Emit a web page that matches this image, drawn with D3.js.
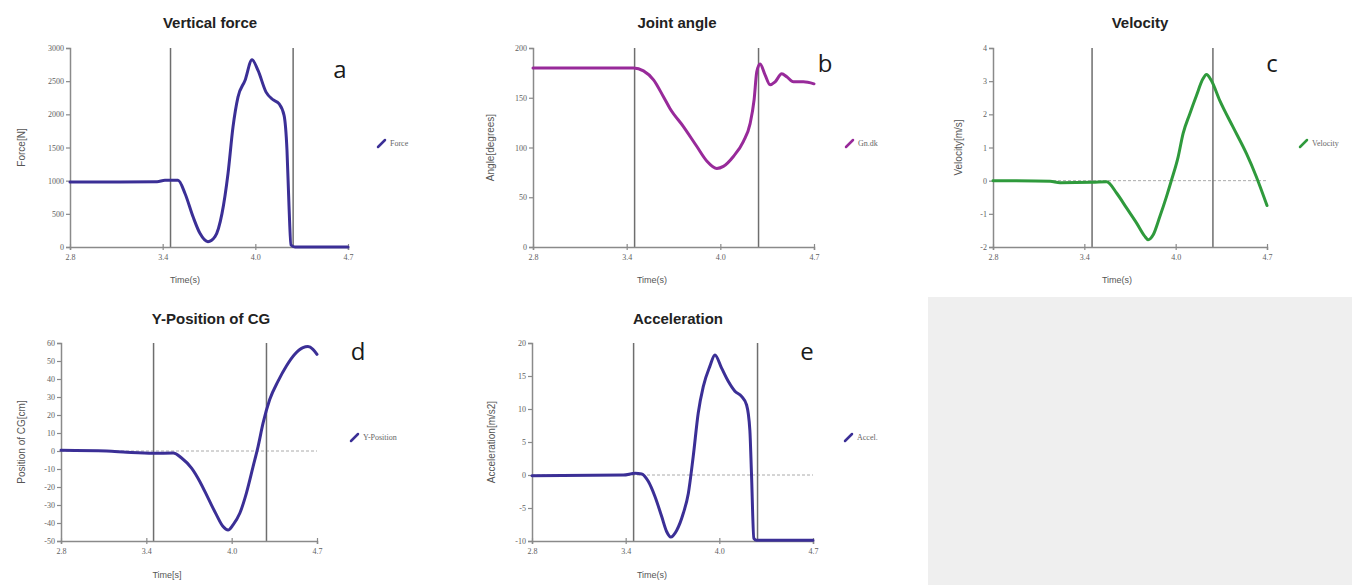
<!DOCTYPE html>
<html>
<head>
<meta charset="utf-8">
<script src="https://cdn.jsdelivr.net/npm/d3@7"></script>
<style>
  body { margin: 0; background: #fff; }
  svg { display: block; }
</style>
</head>
<body>
<svg id="chart"></svg>
<script>
const svgWidth = 1352;
const svgHeight = 585;

// shared time axis
const timeDomain = [2.8, 4.7];
const timeTickLabels = ["2.8", "3.4", "4.0", "4.7"];
const eventTimes = [3.487, 4.325];

// a - vertical force
const forceTime = [2.8, 3.142, 3.395, 3.449, 3.538, 3.586, 3.641, 3.688, 3.743, 3.791, 3.839, 3.880, 3.914, 3.948, 3.996, 4.044, 4.085, 4.140, 4.187, 4.228, 4.263, 4.283, 4.297, 4.310, 4.338, 4.7];
const forceValues = [980, 980, 985, 1005, 1005, 807, 455, 206, 80, 155, 507, 1108, 1809, 2260, 2511, 2822, 2662, 2335, 2221, 2160, 1985, 1459, 606, 30, 0, 0];

// b - joint angle
const angleTime = [2.8, 3.480, 3.547, 3.615, 3.682, 3.727, 3.817, 3.908, 3.975, 4.043, 4.087, 4.155, 4.222, 4.268, 4.295, 4.313, 4.335, 4.369, 4.403, 4.437, 4.482, 4.516, 4.561, 4.628, 4.7];
const angleValues = [180, 180, 177, 168, 151, 139, 121, 101, 86.5, 79, 81, 91, 106, 124, 148, 176, 184, 173, 163, 166, 174, 171, 166, 166, 164];

// c - velocity
const velocityTime = [2.8, 3.196, 3.265, 3.485, 3.588, 3.658, 3.727, 3.796, 3.853, 3.876, 3.911, 3.957, 4.003, 4.038, 4.084, 4.118, 4.165, 4.211, 4.256, 4.280, 4.314, 4.372, 4.464, 4.557, 4.626, 4.7];
const velocityValues = [0, -0.02, -0.06, -0.05, -0.03, -0.38, -0.83, -1.28, -1.68, -1.78, -1.63, -1.08, -0.48, 0.02, 0.72, 1.42, 2.02, 2.57, 3.07, 3.2, 3.02, 2.42, 1.62, 0.82, 0.12, -0.75];

// d - y-position of CG
const positionTime = [2.8, 3.139, 3.287, 3.484, 3.633, 3.695, 3.769, 3.830, 3.892, 3.954, 4.003, 4.040, 4.077, 4.127, 4.176, 4.226, 4.263, 4.300, 4.349, 4.411, 4.473, 4.535, 4.596, 4.633, 4.670, 4.7];
const positionValues = [0.4, 0, -0.7, -1.3, -1.1, -3.9, -9.5, -16.9, -26.2, -35.5, -42, -43.9, -41, -34.6, -23.4, -8.6, 2.6, 15.6, 28.6, 38.8, 47.2, 53.7, 57.4, 58, 56.5, 53.7];

// e - acceleration
const accelTime = [2.8, 3.418, 3.497, 3.542, 3.587, 3.632, 3.677, 3.711, 3.738, 3.778, 3.823, 3.857, 3.890, 3.924, 3.958, 4.003, 4.037, 4.082, 4.127, 4.172, 4.217, 4.251, 4.273, 4.284, 4.300, 4.318, 4.7];
const accelValues = [-0.1, 0, 0.25, 0.15, -1, -3.3, -6.3, -8.6, -9.4, -8.4, -5.8, -2.8, 2.8, 9.4, 13.4, 16.5, 18.2, 16.2, 14.2, 12.7, 11.9, 10.6, 6.8, 0.25, -9.6, -9.9, -9.9];

const panels = [
  { title: "Vertical force", letter: "a", yLabel: "Force[N]", xLabel: "Time(s)", legend: "Force",
    time: forceTime, values: forceValues, yDomain: [0, 3000], yStep: 500, zeroLine: false, color: "#3b2f96",
    left: 70, right: 348, top: 48, bottom: 247, titleX: 210, titleY: 28, letterX: 340, letterY: 78,
    legendX: 378, legendY: 143, yLabelX: 25, xLabelX: 185, xLabelY: 283 },
  { title: "Joint angle", letter: "b", yLabel: "Angle[degrees]", xLabel: "Time(s)", legend: "Gn.dk",
    time: angleTime, values: angleValues, yDomain: [0, 200], yStep: 50, zeroLine: false, color: "#982a9a",
    left: 533, right: 814, top: 48, bottom: 247, titleX: 677, titleY: 28, letterX: 825, letterY: 72,
    legendX: 846, legendY: 143, yLabelX: 494, xLabelX: 652, xLabelY: 283 },
  { title: "Velocity", letter: "c", yLabel: "Velocity[m/s]", xLabel: "Time(s)", legend: "Velocity",
    time: velocityTime, values: velocityValues, yDomain: [-2, 4], yStep: 1, zeroLine: true, color: "#2f9a3c",
    left: 993, right: 1267, top: 48, bottom: 247, titleX: 1140, titleY: 28, letterX: 1272, letterY: 72,
    legendX: 1300, legendY: 143, yLabelX: 962, xLabelX: 1117, xLabelY: 283 },
  { title: "Y-Position of CG", letter: "d", yLabel: "Position of CG[cm]", xLabel: "Time[s]", legend: "Y-Position",
    time: positionTime, values: positionValues, yDomain: [-50, 60], yStep: 10, zeroLine: true, color: "#3b2f96",
    left: 61, right: 317, top: 343, bottom: 541, titleX: 211, titleY: 324, letterX: 358, letterY: 360,
    legendX: 351, legendY: 437, yLabelX: 25, xLabelX: 167, xLabelY: 578 },
  { title: "Acceleration", letter: "e", yLabel: "Acceleration[m/s2]", xLabel: "Time(s)", legend: "Accel.",
    time: accelTime, values: accelValues, yDomain: [-10, 20], yStep: 5, zeroLine: true, color: "#3b2f96",
    left: 532, right: 813, top: 343, bottom: 541, titleX: 678, titleY: 324, letterX: 807, letterY: 360,
    legendX: 845, legendY: 437, yLabelX: 495, xLabelX: 652, xLabelY: 578 }
];

const svg = d3.select("#chart")
  .attr("width", svgWidth)
  .attr("height", svgHeight);

svg.append("rect")
  .attr("width", svgWidth)
  .attr("height", svgHeight)
  .attr("fill", "#fff");

// empty grey panel in the bottom right
svg.append("rect")
  .attr("x", 928)
  .attr("y", 297)
  .attr("width", svgWidth - 928)
  .attr("height", svgHeight - 297)
  .attr("fill", "#efefef");

const tickFont = "'Liberation Serif', 'DejaVu Serif', serif";
const sansFont = "'Liberation Sans', Arial, sans-serif";

panels.forEach(p => {
  const g = svg.append("g");

  const x = d3.scaleLinear().domain(timeDomain).range([p.left, p.right]);
  const y = d3.scaleLinear().domain(p.yDomain).range([p.bottom, p.top]);

  // x ticks at thirds of the time range, labelled with rounded values
  const xTickValues = d3.range(4).map(i => timeDomain[0] + i * (timeDomain[1] - timeDomain[0]) / 3);
  const yTickValues = d3.range(p.yDomain[0], p.yDomain[1] + p.yStep / 2, p.yStep);

  if (p.zeroLine) {
    g.append("line")
      .attr("x1", x(timeDomain[0]))
      .attr("x2", x(timeDomain[1]))
      .attr("y1", y(0))
      .attr("y2", y(0))
      .attr("stroke", "#aaa")
      .attr("stroke-width", 1)
      .attr("stroke-dasharray", "3,2");
  }

  // event markers
  g.selectAll(".event")
    .data(eventTimes)
    .enter()
    .append("line")
    .attr("x1", d => x(d))
    .attr("x2", d => x(d))
    .attr("y1", p.top)
    .attr("y2", p.bottom)
    .attr("stroke", "#6e6e6e")
    .attr("stroke-width", 1.5);

  const xAxis = g.append("g")
    .attr("transform", `translate(0,${p.bottom})`)
    .call(d3.axisBottom(x)
      .tickValues(xTickValues)
      .tickFormat((d, i) => timeTickLabels[i])
      .tickSize(3)
      .tickPadding(4));
  xAxis.selectAll(".tick line").attr("y1", -3);

  const yAxis = g.append("g")
    .attr("transform", `translate(${p.left},0)`)
    .call(d3.axisLeft(y)
      .tickValues(yTickValues)
      .tickFormat(d => String(d))
      .tickSize(4)
      .tickPadding(2));

  [xAxis, yAxis].forEach(ax => {
    ax.select(".domain").attr("stroke", "#8a8a8a").attr("stroke-width", 1.5);
    ax.selectAll(".tick line").attr("stroke", "#8a8a8a").attr("stroke-width", 1.2);
    ax.selectAll("text")
      .attr("fill", "#5e5e5e")
      .style("font-family", tickFont)
      .style("font-size", "8px");
  });

  const line = d3.line()
    .x((d, i) => x(p.time[i]))
    .y(d => y(d))
    .curve(d3.curveMonotoneX);

  g.append("path")
    .datum(p.values)
    .attr("fill", "none")
    .attr("stroke", p.color)
    .attr("stroke-width", 3)
    .attr("stroke-linejoin", "round")
    .attr("stroke-linecap", "round")
    .attr("d", line);

  g.append("text")
    .attr("x", p.titleX)
    .attr("y", p.titleY)
    .attr("text-anchor", "middle")
    .style("font-family", sansFont)
    .style("font-weight", "bold")
    .style("font-size", "15px")
    .attr("fill", "#222")
    .text(p.title);

  g.append("text")
    .attr("x", p.letterX)
    .attr("y", p.letterY)
    .attr("text-anchor", "middle")
    .style("font-family", "'Open Sans', sans-serif")
    .style("font-size", "24px")
    .attr("fill", "#1a1a1a")
    .text(p.letter);

  g.append("text")
    .attr("transform", `translate(${p.yLabelX},${(p.top + p.bottom) / 2}) rotate(-90)`)
    .attr("text-anchor", "middle")
    .style("font-family", sansFont)
    .style("font-size", "10px")
    .attr("fill", "#555")
    .text(p.yLabel);

  g.append("text")
    .attr("x", p.xLabelX)
    .attr("y", p.xLabelY)
    .attr("text-anchor", "middle")
    .style("font-family", sansFont)
    .style("font-size", "9px")
    .attr("fill", "#555")
    .text(p.xLabel);

  // legend
  g.append("line")
    .attr("x1", p.legendX)
    .attr("y1", p.legendY + 4)
    .attr("x2", p.legendX + 7)
    .attr("y2", p.legendY - 3)
    .attr("stroke", p.color)
    .attr("stroke-width", 2.5)
    .attr("stroke-linecap", "round");

  g.append("text")
    .attr("x", p.legendX + 12)
    .attr("y", p.legendY + 3)
    .style("font-family", tickFont)
    .style("font-size", "8px")
    .attr("fill", "#666")
    .text(p.legend);
});
</script>
</body>
</html>
